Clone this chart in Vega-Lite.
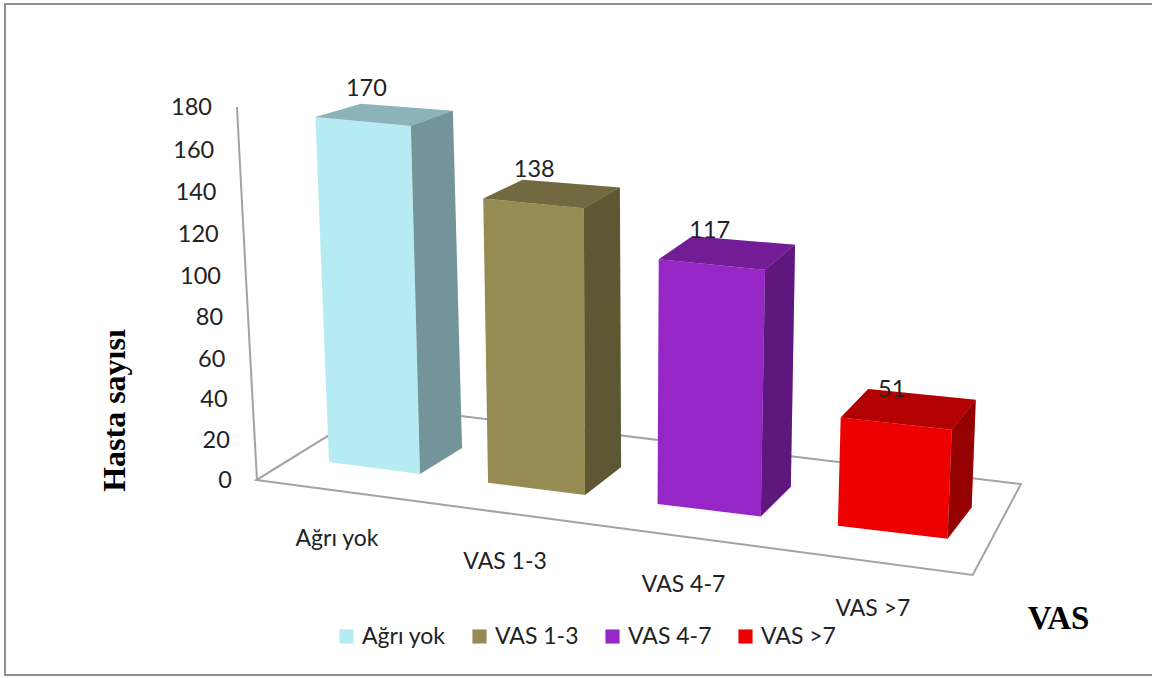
{
  "$schema": "https://vega.github.io/schema/vega-lite/v6.json",
  "width": 1152,
  "height": 678,
  "padding": 0,
  "autosize": {"type": "none"},
  "background": "white",
  "view": {"stroke": null},
  "datasets": {
    "bars": [
      {"group": "Ağrı yok", "patients": 170},
      {"group": "VAS 1-3", "patients": 138},
      {"group": "VAS 4-7", "patients": 117},
      {"group": "VAS >7", "patients": 51}
    ],
    "ticks": [
      {"tick": 0}, {"tick": 20}, {"tick": 40}, {"tick": 60}, {"tick": 80},
      {"tick": 100}, {"tick": 120}, {"tick": 140}, {"tick": 160}, {"tick": 180}
    ],
    "floor": [
      {"corner": "frontLeft", "seq": 0},
      {"corner": "frontRight", "seq": 1},
      {"corner": "backRight", "seq": 2},
      {"corner": "backLeft", "seq": 3}
    ],
    "frame": [
      {"corner": "topRight", "seq": 0},
      {"corner": "topLeft", "seq": 1},
      {"corner": "bottomLeft", "seq": 2},
      {"corner": "bottomRight", "seq": 3}
    ]
  },
  "encoding": {
    "x": {
      "field": "px", "type": "quantitative",
      "scale": {"domain": [0, 1152], "nice": false, "zero": false},
      "axis": {
        "title": "VAS", "labels": false, "ticks": false, "domain": false, "grid": false,
        "titleFont": "Liberation Serif", "titleFontSize": 33, "titleFontWeight": "bold", "titleColor": "#000000",
        "titleX": 1058, "titleY": -60, "titleBaseline": "middle", "titleAlign": "center"
      }
    },
    "y": {
      "field": "py", "type": "quantitative",
      "scale": {"domain": [678, 0], "nice": false, "zero": false},
      "axis": {
        "title": "Hasta sayısı", "labels": false, "ticks": false, "domain": false, "grid": false,
        "titleFont": "Liberation Serif", "titleFontSize": 32, "titleFontWeight": "bold", "titleColor": "#000000",
        "titleX": 114, "titleY": 410, "titleAngle": 270, "titleBaseline": "middle", "titleAlign": "center"
      }
    }
  },
  "layer": [
    {
      "description": "Outer frame of the figure, open on the right",
      "data": {"name": "frame"},
      "transform": [
        {"calculate": "{topRight: 1152, topLeft: 5, bottomLeft: 5, bottomRight: 1152}[datum.corner]", "as": "px"},
        {"calculate": "{topRight: 4, topLeft: 4, bottomLeft: 675, bottomRight: 675}[datum.corner]", "as": "py"}
      ],
      "mark": {"type": "line", "stroke": "#909090", "strokeWidth": 2},
      "encoding": {"order": {"field": "seq", "type": "quantitative"}}
    },
    {
      "description": "Chart floor in the oblique projection",
      "data": {"name": "floor"},
      "transform": [
        {"calculate": "{frontLeft: -0.2, frontRight: 3.85, backRight: 3.77, backLeft: -0.32}[datum.corner]", "as": "u"},
        {"calculate": "{frontLeft: -0.9, frontRight: -1.04, backRight: 1.76, backLeft: 2.03}[datum.corner]", "as": "d"},
        {"calculate": "329 + 154 * datum.u + 5 * datum.u * datum.u + datum.d * (45.5 - 6 * datum.u)", "as": "px"},
        {"calculate": "462 + 20.7 * datum.u - datum.d * (25 + 1.8 * datum.u)", "as": "py"}
      ],
      "mark": {"type": "line", "interpolate": "linear-closed", "stroke": "#A3A3A3", "strokeWidth": 2},
      "encoding": {"order": {"field": "seq", "type": "quantitative"}}
    },
    {
      "description": "Slanted value axis and its labels",
      "data": {"name": "ticks"},
      "transform": [
        {"calculate": "257 - 20 * datum.tick / 180", "as": "px"},
        {"calculate": "480 - 2 * datum.tick - 0.0004 * datum.tick * datum.tick", "as": "py"}
      ],
      "layer": [
        {
          "mark": {"type": "line", "stroke": "#A3A3A3", "strokeWidth": 2},
          "encoding": {"order": {"field": "tick", "type": "quantitative"}}
        },
        {
          "mark": {"type": "text", "align": "right", "baseline": "middle", "dx": -25, "dy": 1, "font": "Lato", "fontSize": 23.5, "color": "#222222"},
          "encoding": {"text": {"field": "tick", "type": "quantitative"}}
        }
      ]
    },
    {
      "description": "Front, side and top faces of each bar, projected from its patient count",
      "data": {"name": "bars"},
      "transform": [
        {"calculate": "indexof(['Ağrı yok', 'VAS 1-3', 'VAS 4-7', 'VAS >7'], datum.group)", "as": "slot"},
        {"calculate": "[{face:'front',ord:0,a:0,d:0,t:0,shade:0},{face:'front',ord:1,a:1,d:0,t:0,shade:0},{face:'front',ord:2,a:1,d:0,t:1,shade:0},{face:'front',ord:3,a:0,d:0,t:1,shade:0},{face:'side',ord:0,a:1,d:0,t:0,shade:0.37},{face:'side',ord:1,a:1,d:1,t:0,shade:0.37},{face:'side',ord:2,a:1,d:1,t:1,shade:0.37},{face:'side',ord:3,a:1,d:0,t:1,shade:0.37},{face:'top',ord:0,a:0,d:0,t:1,shade:0.24},{face:'top',ord:1,a:1,d:0,t:1,shade:0.24},{face:'top',ord:2,a:1,d:1,t:1,shade:0.24},{face:'top',ord:3,a:0,d:1,t:1,shade:0.24}]", "as": "pts"},
        {"flatten": ["pts"]},
        {"calculate": "datum.slot + 0.58 * datum.pts.a", "as": "u"},
        {"calculate": "datum.patients * datum.pts.t", "as": "h"},
        {"calculate": "329 + 154 * datum.u + 5 * datum.u * datum.u + 0.07 * pow(datum.u, 3) + (-0.08 + 0.045 * datum.u) * datum.h + datum.pts.d * (45.5 - 6 * datum.u)", "as": "px"},
        {"calculate": "462 + 20.7 * datum.u + 0.06 * pow(datum.u, 3) - datum.h * (2.03 + 0.03 * datum.u) - datum.pts.d * (25 + 1.8 * datum.u - datum.h * (0.07 - 0.012 * datum.u))", "as": "py"},
        {"calculate": "datum.group + '/' + datum.pts.face", "as": "poly"},
        {"calculate": "datum.pts.ord", "as": "ord"},
        {"calculate": "datum.pts.shade", "as": "shade"},
        {"calculate": "datum.px + 8 + 9 * datum.slot", "as": "labelX"},
        {"calculate": "datum.py + 76.5 + 2.3 * datum.slot", "as": "labelY"}
      ],
      "layer": [
        {
          "mark": {"type": "line", "interpolate": "linear-closed", "strokeWidth": 0},
          "encoding": {
            "detail": {"field": "poly"},
            "order": {"field": "ord", "type": "quantitative"},
            "fill": {
              "field": "group", "type": "nominal",
              "scale": {
                "domain": ["Ağrı yok", "VAS 1-3", "VAS 4-7", "VAS >7"],
                "range": ["#B7EBF3", "#958B53", "#9626C6", "#EC0000"]
              },
              "legend": {
                "title": null, "orient": "none", "direction": "horizontal", "columns": 4, "gridAlign": "none",
                "legendX": 335, "legendY": 625, "columnPadding": 22,
                "symbolType": "square", "symbolSize": 200, "symbolStrokeWidth": 0, "symbolOffset": 0,
                "labelFont": "Lato", "labelFontSize": 23, "labelColor": "#222222", "labelOffset": 4
              }
            }
          }
        },
        {
          "transform": [{"filter": "datum.shade > 0"}],
          "mark": {"type": "line", "interpolate": "linear-closed", "strokeWidth": 0, "fill": "#000000"},
          "encoding": {
            "detail": {"field": "poly"},
            "order": {"field": "ord", "type": "quantitative"},
            "fillOpacity": {"field": "shade", "type": "quantitative", "scale": null}
          }
        },
        {
          "description": "Patient count above each bar",
          "transform": [{"filter": "datum.pts.face === 'front' && datum.pts.ord === 3"}],
          "mark": {"type": "text", "align": "center", "baseline": "middle", "dx": 51, "dy": -28, "font": "Lato", "fontSize": 23.5, "color": "#222222"},
          "encoding": {"text": {"field": "patients", "type": "quantitative"}}
        },
        {
          "description": "Group names in front of the floor",
          "transform": [{"filter": "datum.pts.face === 'front' && datum.pts.ord === 0"}],
          "mark": {"type": "text", "align": "center", "baseline": "middle", "font": "Lato", "fontSize": 23, "color": "#222222"},
          "encoding": {
            "text": {"field": "group", "type": "nominal"},
            "x": {"field": "labelX", "type": "quantitative"},
            "y": {"field": "labelY", "type": "quantitative"}
          }
        }
      ]
    }
  ]
}
